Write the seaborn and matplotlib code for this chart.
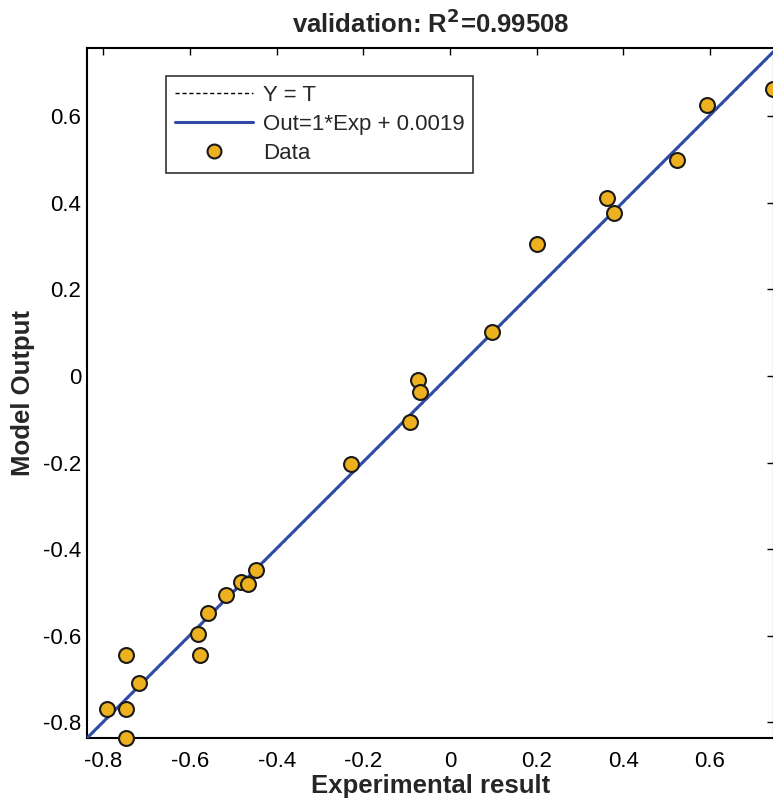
import numpy as np
import pandas as pd
import matplotlib
matplotlib.use("Agg")
import matplotlib.pyplot as plt
import seaborn as sns
from matplotlib.lines import Line2D

# ---- data ----
experimental = [-0.791, -0.747, -0.747, -0.747, -0.717, -0.581, -0.577, -0.558,
                -0.517, -0.482, -0.466, -0.448, -0.228, -0.092, -0.074, -0.069,
                0.097, 0.201, 0.362, 0.378, 0.524, 0.593, 0.746]
model_output = [-0.768, -0.644, -0.768, -0.835, -0.708, -0.595, -0.644, -0.547,
                -0.505, -0.475, -0.480, -0.449, -0.204, -0.107, -0.010, -0.038,
                0.101, 0.304, 0.410, 0.376, 0.498, 0.625, 0.662]
fit_slope = 1.0
fit_intercept = 0.0019
x_limits = [-0.838, 0.748]
y_limits = [-0.836, 0.757]
x_ticks = [-0.8, -0.6, -0.4, -0.2, 0, 0.2, 0.4, 0.6]
x_tick_labels = ["-0.8", "-0.6", "-0.4", "-0.2", "0", "0.2", "0.4", "0.6"]
y_ticks = [-0.8, -0.6, -0.4, -0.2, 0, 0.2, 0.4, 0.6]
y_tick_labels = ["-0.8", "-0.6", "-0.4", "-0.2", "0", "0.2", "0.4", "0.6"]

sns.set_style("white")
plt.rcParams['font.family'] = ['Liberation Sans', 'DejaVu Sans']

W, H = 773, 805
fig = plt.figure(figsize=(W / 100, H / 100), dpi=100)
left, right, top, bottom = 87, 774, 48, 738
ax = fig.add_axes([left / W, (H - bottom) / H, (right - left) / W, (bottom - top) / H])

df = pd.DataFrame({"Exp": experimental, "Out": model_output})
line_x = np.array(x_limits)
ident = pd.DataFrame({"x": line_x, "y": line_x})
fit = pd.DataFrame({"x": line_x, "y": fit_slope * line_x + fit_intercept})

sns.lineplot(data=ident, x="x", y="y", ax=ax, color="black", lw=1.0,
             linestyle=(0, (3, 2)), zorder=2)
sns.lineplot(data=fit, x="x", y="y", ax=ax, color="#2f4aa8", lw=2.2, zorder=3)
sns.scatterplot(data=df, x="Exp", y="Out", ax=ax, s=115, color="#EDB120",
                edgecolor="#1a1a1a", linewidth=1.5, zorder=4, clip_on=False)

ax.set_xlim(x_limits)
ax.set_ylim(y_limits)
ax.set_xticks(x_ticks)
ax.set_xticklabels(x_tick_labels)
ax.set_yticks(y_ticks)
ax.set_yticklabels(y_tick_labels)
ax.tick_params(direction="in", length=5, width=1, top=True, right=True,
               labelsize=16, colors="black")
ax.tick_params(axis="x", pad=9)
ax.tick_params(axis="y", pad=4)
for s in ax.spines.values():
    s.set_visible(True)
    s.set_color("black")
    s.set_linewidth(1.5)

ax.set_xlabel("Experimental result", fontsize=18.5, fontweight="bold", labelpad=2)
ax.set_ylabel("Model Output", fontsize=18.5, fontweight="bold", labelpad=6)
ax.set_title("validation: R$^\\mathbf{2}$=0.99508", fontsize=18.5, fontweight="bold", pad=11)

handles = [
    Line2D([], [], color="black", lw=1.0, linestyle=(0, (3, 2))),
    Line2D([], [], color="#2f4aa8", lw=2.2),
    Line2D([], [], marker="o", linestyle="none", markersize=10,
           markerfacecolor="#EDB120", markeredgecolor="#1a1a1a", markeredgewidth=1.5),
]
labels = ["Y = T", "Out=1*Exp + 0.0019", "Data"]
leg = ax.legend(handles, labels, loc="upper left", bbox_to_anchor=(0.115, 0.959),
                fontsize=16, frameon=True, fancybox=False, handlelength=3.5,
                borderpad=0.4, labelspacing=0.36, handletextpad=0.45,
                borderaxespad=0)
leg.get_frame().set_edgecolor("black")
leg.get_frame().set_linewidth(1.2)

fig.savefig("out.png", dpi=100)
